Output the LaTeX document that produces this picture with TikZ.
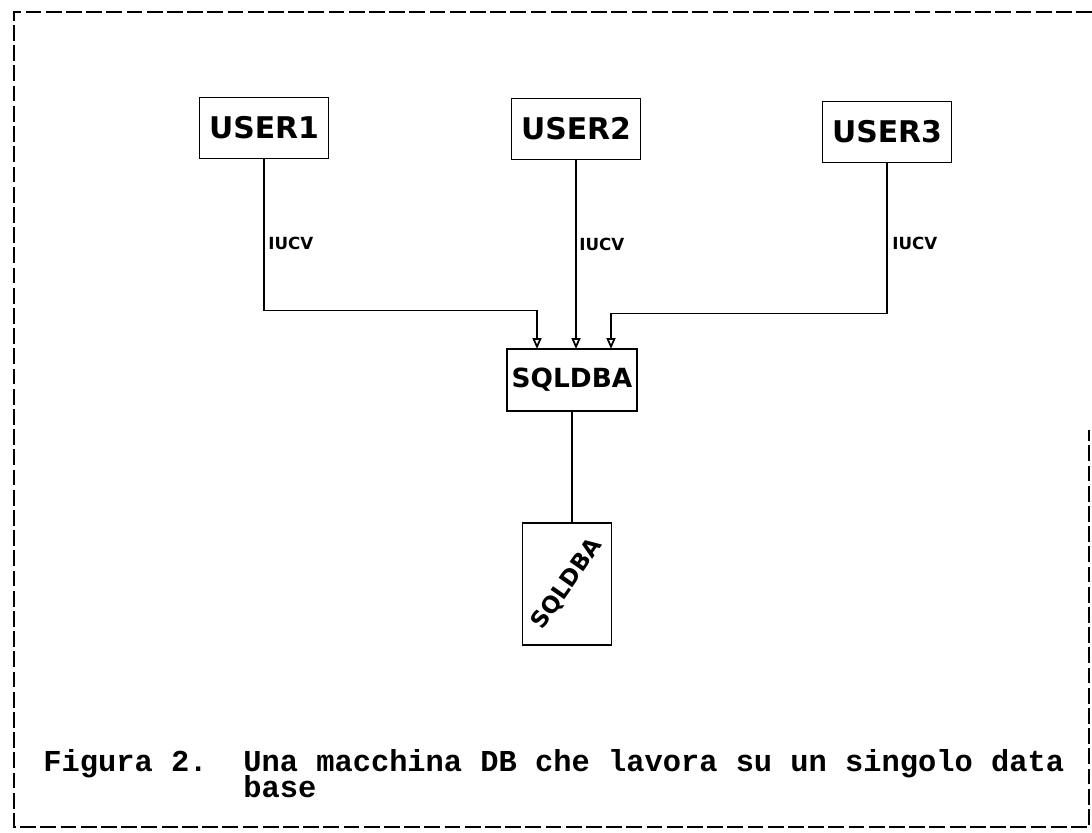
\documentclass[tikz,border=0pt]{standalone}
\usepackage{fontspec}
\setmonofont{Liberation Mono}
\newfontfamily\handfont{DejaVu Sans}
\usetikzlibrary{arrows.meta,positioning}

\begin{document}
\begin{tikzpicture}[
  x=0.02cm, y=-0.02cm,
  >={Triangle[open, length=2.2mm, width=1.8mm]},
  labelBox/.style={draw, line width=1pt, inner sep=0pt, outer sep=0pt, font=\handfont\bfseries\fontsize{17}{17}\selectfont},
  userBox/.style={labelBox, minimum width=2.58cm, minimum height=1.22cm},
  dbaBox/.style={labelBox, minimum width=2.6cm, minimum height=1.24cm, font=\handfont\bfseries\fontsize{15}{15}\selectfont},
  storeBox/.style={labelBox, minimum width=1.78cm, minimum height=2.44cm},
  storeText/.style={font=\handfont\bfseries\fontsize{13}{13}\selectfont, rotate=55, inner sep=0pt},
  iucvLabel/.style={anchor=west, inner sep=0pt, font=\handfont\bfseries\fontsize{9.5}{9.5}\selectfont},
  captionText/.style={anchor=base west, inner sep=0pt, font=\ttfamily\bfseries\fontsize{17.3}{22}\selectfont},
  frameLine/.style={line width=1.5pt, dash pattern=on 9pt off 2.5pt},
  link/.style={line width=1pt}
]
\useasboundingbox (0,0) rectangle (1092,832);

% users on top
\node[userBox] (user1) at (264,128) {USER1};
\node[userBox] (user2) at (576,129) {USER2};
\node[userBox] (user3) at (887,132) {USER3};

% database machine and data base
\node[dbaBox] (sqldba) at (572,380) {SQLDBA};
\node[storeBox] (database) at (567,584) {};
\node[storeText] at (database.center) {SQLDBA};

% IUCV connections
\draw[link, ->] (user1.south) -- ++(0,152) -| ([xshift=-0.7cm]sqldba.north);
\draw[link, ->] (user2.south) -- (user2.south |- sqldba.north);
\draw[link, ->] (user3.south) -- ++(0,151) -| ([xshift=0.78cm]sqldba.north);
\draw[link] (sqldba.south) -- (sqldba.south |- database.north);

\node[iucvLabel] at ([xshift=0.08cm, yshift=-1.7cm]user1.south) {IUCV};
\node[iucvLabel] at ([xshift=0.06cm, yshift=-1.7cm]user2.south) {IUCV};
\node[iucvLabel] at ([xshift=0.1cm, yshift=-1.62cm]user3.south) {IUCV};

% caption
\node[captionText] (figNum) at (43,771) {Figura 2.};
\node[captionText] (figText) at (243,771) {Una macchina DB che lavora su un singolo data};
\node[captionText] (figTail) at ([yshift=-0.52cm]figText.base west) {base};

% frame
\draw[frameLine] (1092,12) -- (14,12) -- (14,827) -- (1089,827) -- (1089,430);
\end{tikzpicture}
\end{document}
